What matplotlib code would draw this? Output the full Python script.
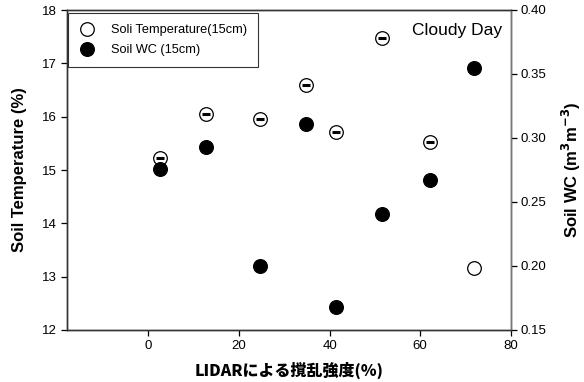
import matplotlib
matplotlib.use("Agg")
import matplotlib.pyplot as plt
from matplotlib.lines import Line2D

# Data
lidar = [2.5, 12.7, 24.7, 34.8, 41.5, 51.5, 62.1, 71.8]
soil_temp = [15.22, 16.05, 15.96, 16.60, 15.72, 17.47, 15.53, 13.17]
temp_has_bar = [True, True, True, True, True, True, True, False]
soil_wc = [0.276, 0.293, 0.200, 0.311, 0.168, 0.241, 0.267, 0.355]

xticks = [0, 20, 40, 60, 80]
yticks_left = [12, 13, 14, 15, 16, 17, 18]
yticks_right = [0.15, 0.20, 0.25, 0.30, 0.35, 0.40]

plt.rcParams['font.family'] = ['Liberation Sans', 'DejaVu Sans']

fig = plt.figure(figsize=(5.84, 3.82), dpi=100)
ax = fig.add_axes([67/584, 52/382, (510.7-67)/584, 320/382])
ax2 = ax.twinx()

ms = 9.8
ax.plot(lidar, soil_temp, 'o', ms=ms, mfc='white', mec='black', mew=0.9, zorder=3, clip_on=False)
bx = [x for x, b in zip(lidar, temp_has_bar) if b]
by = [y for y, b in zip(soil_temp, temp_has_bar) if b]
ax.plot(bx, by, '_', ms=5.5, mew=2.2, color='black', zorder=4)
ax2.plot(lidar, soil_wc, 'o', ms=ms, mfc='black', mec='black', zorder=3, clip_on=False)

ax.set_xlim(-18, 80)
ax.set_ylim(12, 18)
ax2.set_ylim(0.15, 0.40)
ax.set_xticks(xticks)
ax.set_yticks(yticks_left)
ax2.set_yticks(yticks_right)
ax2.set_yticklabels([f"{v:.2f}" for v in yticks_right])

for a in (ax, ax2):
    a.tick_params(direction='out', length=4, width=0.9, labelsize=9.5, colors='black', pad=3)
    for s in a.spines.values():
        s.set_linewidth(1.0)
        s.set_color('#333333')
ax2.spines['right'].set_color('#777777')

ax.set_ylabel('Soil Temperature (%)', fontsize=12, fontweight='bold', labelpad=11)
ax2.set_ylabel('Soil WC (m$^\\mathbf{3}$m$^\\mathbf{-3}$)', fontsize=12, fontweight='bold', labelpad=10)
ax.set_xlabel('LIDARによる撹乱強度(%)', fontsize=11.5, fontweight='black',
              family=['Noto Sans CJK JP', 'DejaVu Sans'], labelpad=7)

ax.text(0.98, 0.96, 'Cloudy Day', transform=ax.transAxes, ha='right', va='top', fontsize=12.5)

handles = [
    Line2D([], [], marker='o', ls='none', ms=ms, mfc='white', mec='black', mew=0.9),
    Line2D([], [], marker='o', ls='none', ms=ms, mfc='black', mec='black'),
]
leg = ax.legend(handles, ['Soli Temperature(15cm)', 'Soil WC (15cm)'],
                loc='upper left', bbox_to_anchor=(0.003, 0.99), borderaxespad=0,
                fontsize=9.2, frameon=True, fancybox=False, handlelength=1.3,
                handletextpad=1.2, borderpad=0.85, labelspacing=0.65)
leg.get_frame().set_edgecolor('black')
leg.get_frame().set_linewidth(0.8)
leg.set_zorder(10)

fig.savefig('out.png', dpi=100)
